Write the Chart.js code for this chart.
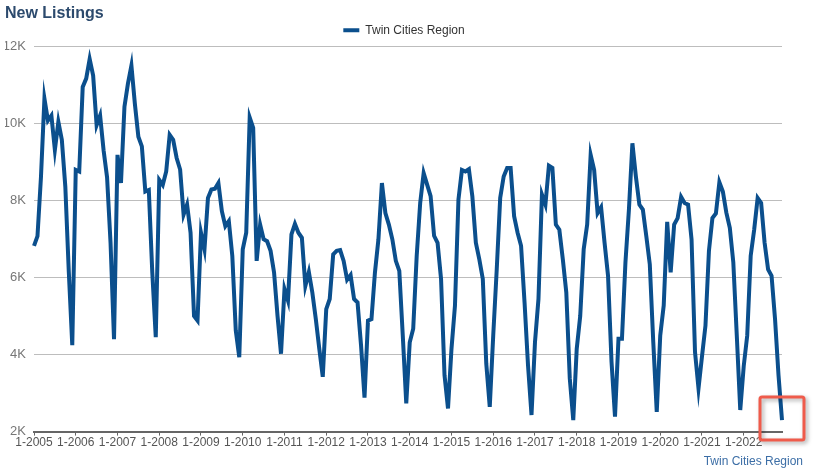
<!DOCTYPE html>
<html>
<head>
<meta charset="utf-8">
<script src="https://cdn.jsdelivr.net/npm/chart.js@4"></script>
<style>
  body { margin: 0; background: #fff; }
  canvas { display: block; }
</style>
</head>
<body>
<canvas id="listingsChart" width="830" height="470"></canvas>
<script>
const years = [2005, 2006, 2007, 2008, 2009, 2010, 2011, 2012, 2013, 2014, 2015, 2016, 2017, 2018, 2019, 2020, 2021, 2022];
const months = [1, 2, 3, 4, 5, 6, 7, 8, 9, 10, 11, 12];
const yTicks = [2000, 4000, 6000, 8000, 10000, 12000];
const seriesName = 'Twin Cities Region';

// monthly new listings, one row per year
const newListings = [
    6820, 7070, 8600, 10640, 10070, 10200, 9310, 10040, 9570, 8360, 6150, 4240,
    8790, 8750, 10940, 11160, 11670, 11240, 9950, 10200, 9300, 8600, 6900, 4400,
    9180, 8450, 10430, 11030, 11500, 10500, 9650, 9400, 8230, 8270, 6130, 4450,
    8530, 8400, 8750, 9700, 9570, 9100, 8800, 7630, 7890, 7160, 5000, 4880,
    7160, 6730, 8060, 8280, 8300, 8450, 7720, 7330, 7460, 6560, 4620, 3930,
    6730, 7160, 10150, 9880, 6430, 7370, 6990, 6940, 6690, 6130, 5000, 4020,
    5700, 5400, 7120, 7390, 7160, 7030, 5780, 6140, 5610, 4920, 4150, 3420,
    5180, 5440, 6600, 6690, 6710, 6430, 5940, 6060, 5440, 5350, 4240, 2880,
    4880, 4920, 6130, 6990, 8450, 7670, 7370, 6990, 6430, 6170, 4490, 2730,
    4320, 4670, 6560, 7930, 8710, 8410, 8110, 7080, 6900, 5960, 3460, 2600,
    4150, 5270, 8020, 8790, 8750, 8810, 8100, 6900, 6470, 5960, 3760, 2640,
    4500, 6200, 8060, 8620, 8840, 8840, 7590, 7160, 6820, 5350, 3720, 2430,
    4320, 5440, 8150, 7890, 8900, 8840, 7370, 7240, 6470, 5610, 3380, 2300,
    4150, 5000, 6730, 7370, 9180, 8790, 7670, 7820, 6900, 6040, 3810, 2390,
    4410, 4410, 6390, 7760, 9480, 8620, 7890, 7760, 7070, 6340, 4320, 2510,
    4490, 5270, 7440, 6130, 7370, 7540, 8090, 7930, 7890, 6990, 4060, 3120,
    3950, 4750, 6690, 7540, 7660, 8470, 8230, 7680, 7290, 6400, 4500, 2560,
    3700, 4490, 6560, 7240, 8060, 7930, 6900, 6210, 6040, 4920, 3460, 2300
];

const labels = [];
years.forEach(y => months.forEach(m => labels.push(m + '-' + y)));

// red highlight box around the latest month, plus the source caption
const extras = {
    id: 'extras',
    afterDraw(chart) {
        const ctx = chart.ctx;
        const meta = chart.getDatasetMeta(0);
        const last = meta.data[meta.data.length - 1];
        ctx.save();
        ctx.shadowColor = 'rgba(0,0,0,0.35)';
        ctx.shadowBlur = 4;
        ctx.shadowOffsetX = 2;
        ctx.shadowOffsetY = 2;
        ctx.strokeStyle = '#ef5b4b';
        ctx.lineWidth = 3;
        ctx.beginPath();
        ctx.roundRect(last.x - 22, last.y - 23, 44, 43, 2);
        ctx.stroke();
        ctx.restore();

        ctx.save();
        ctx.font = '12px "Liberation Sans", Arial, sans-serif';
        ctx.fillStyle = '#3c6ea6';
        ctx.textAlign = 'right';
        ctx.textBaseline = 'middle';
        ctx.fillText(seriesName, chart.width - 27, chart.height - 8);
        ctx.restore();
    }
};

new Chart(document.getElementById('listingsChart'), {
    type: 'line',
    data: {
        labels: labels,
        datasets: [{
            label: seriesName,
            data: newListings,
            borderColor: '#0b4f8d',
            backgroundColor: '#0b4f8d',
            borderWidth: 4,
            pointRadius: 0,
            tension: 0,
            fill: false
        }]
    },
    options: {
        responsive: false,
        animation: false,
        layout: { padding: { left: 5, right: 27, top: 0, bottom: 20 } },
        plugins: {
            title: {
                display: true,
                text: 'New Listings',
                align: 'start',
                color: '#2c4a6d',
                font: { family: '"Liberation Sans", Arial, sans-serif', size: 16, weight: 'bold' },
                padding: { top: 4, bottom: 0 }
            },
            legend: {
                display: true,
                labels: {
                    usePointStyle: true,
                    pointStyle: 'line',
                    pointStyleWidth: 16,
                    boxHeight: 10,
                    color: '#333',
                    font: { family: '"Liberation Sans", Arial, sans-serif', size: 12 },
                    padding: 1
                }
            },
            tooltip: { enabled: false }
        },
        scales: {
            x: {
                offset: false,
                grid: { drawOnChartArea: false, drawTicks: true, tickLength: 4, color: '#666' },
                border: { display: true, color: '#666', width: 2 },
                ticks: {
                    autoSkip: false,
                    maxRotation: 0,
                    padding: 0,
                    color: '#555',
                    font: { family: '"Liberation Sans", Arial, sans-serif', size: 12 },
                    callback: function (value, index) {
                        return index % 12 === 0 ? this.getLabelForValue(value) : null;
                    }
                }
            },
            y: {
                min: yTicks[0],
                max: yTicks[yTicks.length - 1],
                afterBuildTicks: scale => { scale.ticks = yTicks.map(v => ({ value: v })); },
                afterFit: scale => { scale.width = 29; },
                grid: { color: '#bdbdbd', drawTicks: false, lineWidth: 1 },
                border: { display: false },
                ticks: {
                    padding: 8,
                    color: '#777',
                    font: { family: '"Liberation Sans", Arial, sans-serif', size: 13 },
                    callback: v => (v / 1000) + 'K'
                }
            },
            y2: {
                position: 'right',
                display: true,
                grid: { display: false, drawTicks: false },
                border: { display: false },
                ticks: { callback: () => '' },
                afterFit: scale => { scale.width = 21; }
            }
        }
    },
    plugins: [extras]
});
</script>
</body>
</html>
